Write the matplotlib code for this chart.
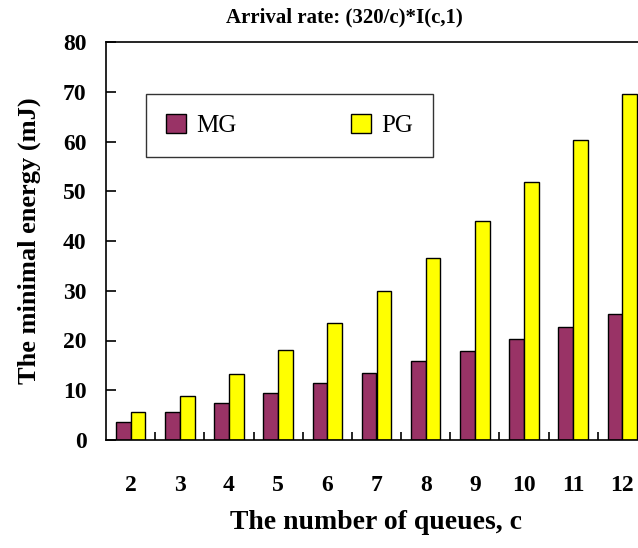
import numpy as np
import matplotlib.pyplot as plt
from matplotlib.ticker import FixedLocator

queues = [2, 3, 4, 5, 6, 7, 8, 9, 10, 11, 12]
mg = [3.6, 5.6, 7.4, 9.4, 11.5, 13.5, 15.9, 17.9, 20.4, 22.8, 25.3]
pg = [5.6, 8.8, 13.2, 18.0, 23.5, 29.9, 36.5, 44.0, 51.8, 60.3, 69.5]

plt.rcParams['font.family'] = ['Liberation Serif', 'DejaVu Serif']

fig = plt.figure(figsize=(6.38, 5.48), dpi=100)
ax = fig.add_axes([106 / 638, 108 / 548, 541 / 638, 398 / 548])

x = np.array(queues)
w = 0.3
ax.bar(x - w / 2, mg, w, color='#993366', edgecolor='black', linewidth=1.0, label='MG')
ax.bar(x + w / 2, pg, w, color='#FFFF00', edgecolor='black', linewidth=1.0, label='PG')

ax.set_xlim(1.5, 12.5)
ax.set_ylim(0, 80)
ax.set_yticks(range(0, 81, 10))
ax.set_xticks(queues)
ax.xaxis.set_minor_locator(FixedLocator(np.arange(2.5, 12.5, 1)))
ax.tick_params(axis='x', which='major', length=0, pad=25, labelsize=17)
ax.tick_params(axis='x', which='minor', direction='in', length=6, width=1.2)
ax.tick_params(axis='y', direction='in', length=7, width=1.2, pad=14, labelsize=17)
for lab in ax.get_xticklabels() + ax.get_yticklabels():
    lab.set_fontweight('bold')

for s in ['left', 'bottom', 'top']:
    ax.spines[s].set_linewidth(1.2)
ax.spines['right'].set_visible(False)

ax.set_xlabel('The number of queues, c', fontsize=20, fontweight='bold', labelpad=10)
ax.set_ylabel('The minimal energy (mJ)', fontsize=19, fontweight='bold', labelpad=16)
fig.text(0.539, 0.968, 'Arrival rate: (320/c)*I(c,1)', fontsize=15, fontweight='bold',
         ha='center', va='center')

leg = ax.legend(loc='upper left', bbox_to_anchor=(40 / 541, 1 - 52 / 398), ncol=2,
                fontsize=18, frameon=True, fancybox=False, edgecolor='black',
                handlelength=0.8, handleheight=0.8, columnspacing=4.6,
                borderpad=0.8, borderaxespad=0, handletextpad=0.4)
leg.get_frame().set_linewidth(1.0)

fig.savefig('out.png', dpi=100)
